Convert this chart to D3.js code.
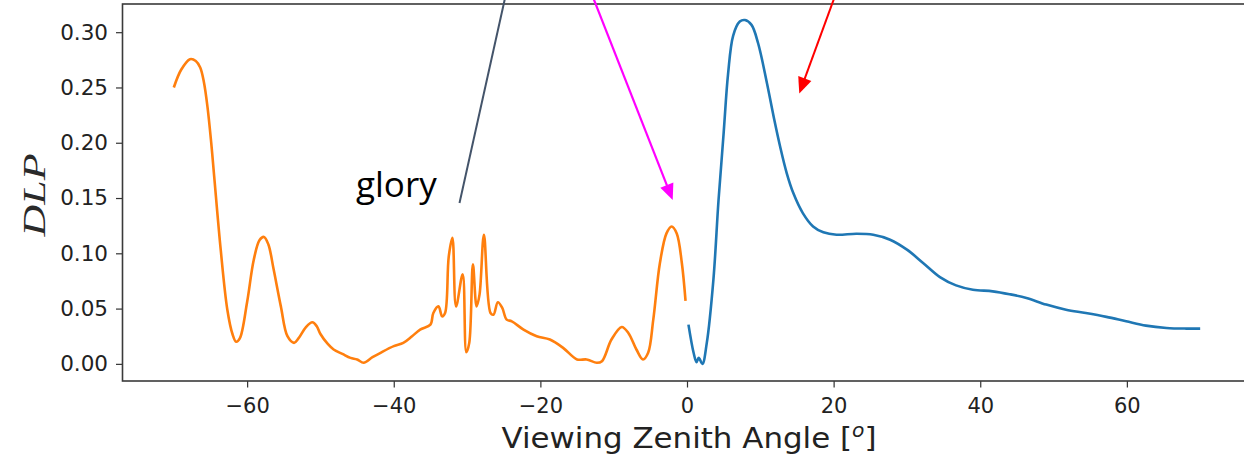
<!DOCTYPE html>
<html>
<head>
<meta charset="utf-8">
<script src="https://cdn.jsdelivr.net/npm/d3@7"></script>
<style>
  html, body { margin: 0; padding: 0; background: #fff; overflow: hidden; }
  svg { display: block; }
</style>
</head>
<body>
<svg id="chart" width="1244" height="459"></svg>
<script>
// Viewing zenith angle (deg) and DLP for the backward-scattering side (negative angles)
const backAngle = [-70.0, -69.0, -67.8, -67.0, -66.4, -65.9, -65.4, -64.9, -64.5, -63.6, -62.7, -62.0, -61.5, -61.0,
  -60.0, -59.1, -58.3, -57.7, -57.1, -56.4, -55.4, -54.5, -53.6, -53.0, -52.0, -51.1, -50.5, -50.0,
  -49.0, -48.2, -47.0, -45.9, -45.0, -44.1, -42.9, -41.8, -40.0, -38.7, -37.5, -36.4, -35.0, -34.6,
  -33.9, -33.4, -33.0, -32.5, -32.0, -31.5, -30.6, -30.1, -29.7, -29.2, -28.7, -28.3, -27.7, -26.8,
  -26.4, -25.8, -25.2, -24.6, -23.9, -22.3, -20.5, -18.7, -16.9, -15.0, -13.7, -12.3, -11.6, -10.3,
  -8.9, -8.0, -6.9, -6.0, -5.3, -4.6, -3.7, -2.8, -2.1, -1.4, -0.7, -0.2];
const backDLP = [0.250, 0.266, 0.2756, 0.274, 0.268, 0.255, 0.232, 0.200, 0.170, 0.103, 0.049, 0.027, 0.020, 0.023,
  0.056, 0.094, 0.112, 0.1148, 0.108, 0.086, 0.052, 0.025, 0.019, 0.023, 0.033, 0.0376, 0.034, 0.027,
  0.018, 0.013, 0.009, 0.0054, 0.004, 0.001, 0.006, 0.010, 0.016, 0.019, 0.025, 0.031, 0.0355, 0.046,
  0.052, 0.043, 0.046, 0.097, 0.114, 0.052, 0.081, 0.0105, 0.019, 0.090, 0.052, 0.0626, 0.1168, 0.046,
  0.0445, 0.0557, 0.0506, 0.040, 0.0385, 0.031, 0.025, 0.022, 0.0145, 0.004, 0.004, 0.001, 0.0024, 0.022,
  0.0334, 0.028, 0.013, 0.004, 0.010, 0.040, 0.091, 0.118, 0.1243, 0.118, 0.091, 0.057];

// Forward-scattering side (positive angles)
const foreAngle = [0.2, 0.9, 1.3, 1.6, 2.1, 2.7, 3.6, 4.3, 5.0, 5.6, 6.3, 7.2, 7.9, 8.8, 9.7, 10.9,
  11.9, 12.7, 13.6, 14.5, 15.8, 17.2, 18.6, 20.4, 23.1, 25.4, 27.7, 30.0, 32.2, 34.5, 36.7, 39.0,
  41.7, 44.0, 46.3, 49.0, 51.7, 54.4, 57.2, 59.9, 62.6, 65.4, 68.1, 70.0];
const foreDLP = [0.0355, 0.010, 0.0015, 0.0054, 0.000, 0.019, 0.076, 0.148, 0.209, 0.262, 0.297, 0.3096,
  0.311, 0.3066, 0.290, 0.254, 0.221, 0.1966, 0.1726, 0.1545, 0.1364, 0.1243, 0.119, 0.1168, 0.1177,
  0.1168, 0.1123, 0.1033, 0.0913, 0.0785, 0.071, 0.0671, 0.0656, 0.063, 0.0596, 0.0536, 0.049, 0.046,
  0.0425, 0.0385, 0.0346, 0.0325, 0.0319, 0.0319];

const xTicks = [-60, -40, -20, 0, 20, 40, 60];
const yTicks = [0, 0.05, 0.10, 0.15, 0.20, 0.25, 0.30];

const svg = d3.select("#chart");
const plot = { left: 122.5, right: 1251.5, top: 4, bottom: 381 };

const x = d3.scaleLinear().domain([-77, 77]).range([plot.left, plot.right]);
const y = d3.scaleLinear().domain([-0.0155, 0.3255]).range([plot.bottom, plot.top]);

const tickFont = "DejaVu Sans, sans-serif";

// x axis
const gx = svg.append("g")
  .attr("transform", `translate(0,${plot.bottom})`)
  .call(d3.axisBottom(x).tickValues(xTicks).tickSize(6.5).tickPadding(11).tickFormat(d3.format("d")));
gx.select(".domain").remove();
gx.selectAll(".tick line").attr("stroke", "#333").attr("stroke-width", 1.2);
gx.selectAll(".tick text").attr("font-family", tickFont).attr("font-size", 21).attr("fill", "#222");

// y axis
const gy = svg.append("g")
  .attr("transform", `translate(${plot.left},0)`)
  .call(d3.axisLeft(y).tickValues(yTicks).tickSize(6.5).tickPadding(8).tickFormat(d3.format(".2f")));
gy.select(".domain").remove();
gy.selectAll(".tick line").attr("stroke", "#333").attr("stroke-width", 1.2);
gy.selectAll(".tick text").attr("font-family", tickFont).attr("font-size", 21.5).attr("fill", "#222");

// plot frame
svg.append("rect")
  .attr("x", plot.left).attr("y", plot.top)
  .attr("width", plot.right - plot.left).attr("height", plot.bottom - plot.top)
  .attr("fill", "none").attr("stroke", "#3a3a3a").attr("stroke-width", 1.6);

// curves
const line = d3.line()
  .x(d => x(d[0])).y(d => y(d[1]))
  .curve(d3.curveCatmullRom.alpha(0.5));

svg.append("path")
  .datum(d3.zip(backAngle, backDLP))
  .attr("d", line)
  .attr("fill", "none").attr("stroke", "#ff7f0e").attr("stroke-width", 2.6)
  .attr("stroke-linejoin", "round");

svg.append("path")
  .datum(d3.zip(foreAngle, foreDLP))
  .attr("d", line)
  .attr("fill", "none").attr("stroke", "#1f77b4").attr("stroke-width", 2.6)
  .attr("stroke-linejoin", "round");

// axis titles
const xt = svg.append("text")
  .attr("x", 689).attr("y", 448)
  .attr("text-anchor", "middle")
  .attr("font-family", tickFont).attr("font-size", 29).attr("fill", "#222")
  .attr("textLength", 375).attr("lengthAdjust", "spacingAndGlyphs");
xt.append("tspan").text("Viewing Zenith Angle [");
xt.append("tspan").text("o").attr("font-style", "italic").attr("font-size", 19).attr("dy", -11);
xt.append("tspan").text("]").attr("dy", 11);

svg.append("text")
  .attr("transform", "translate(45,195) rotate(-90)")
  .attr("text-anchor", "middle")
  .attr("font-family", "Liberation Serif, serif").attr("font-style", "italic")
  .attr("font-size", 32).attr("fill", "#2a2a2a")
  .attr("textLength", 83).attr("lengthAdjust", "spacingAndGlyphs")
  .text("DLP");

// annotations
svg.append("text")
  .attr("x", 356).attr("y", 197)
  .attr("font-family", "Open Sans, sans-serif").attr("font-size", 35).attr("fill", "#000")
  .text("glory");

svg.append("line")
  .attr("x1", 505.5).attr("y1", -4).attr("x2", 459.5).attr("y2", 203)
  .attr("stroke", "#44546a").attr("stroke-width", 2);

function arrow(x1, y1, x2, y2, color, width, headLen, headWidth) {
  const dx = x2 - x1, dy = y2 - y1, len = Math.hypot(dx, dy);
  const ux = dx / len, uy = dy / len;
  const bx = x2 - ux * headLen, by = y2 - uy * headLen;
  svg.append("line")
    .attr("x1", x1).attr("y1", y1).attr("x2", bx + ux).attr("y2", by + uy)
    .attr("stroke", color).attr("stroke-width", width);
  svg.append("path")
    .attr("d", `M${x2},${y2}L${bx - uy * headWidth / 2},${by + ux * headWidth / 2}L${bx + uy * headWidth / 2},${by - ux * headWidth / 2}Z`)
    .attr("fill", color);
}
arrow(592.5, -4, 672.7, 200, "#ff00ff", 2.2, 16, 14);
arrow(835, -4, 799.3, 93.5, "#ff0000", 2, 16, 14);
</script>
</body>
</html>
